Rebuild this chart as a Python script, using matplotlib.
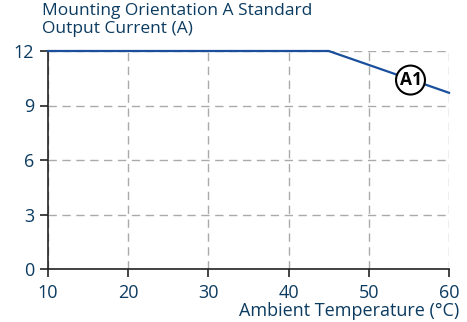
import matplotlib
matplotlib.use("Agg")
import matplotlib.pyplot as plt

temps = [10, 45, 60]
current = [12, 12, 9.7]
xticks = [10, 20, 30, 40, 50, 60]
yticks = [0, 3, 6, 9, 12]
label_text = "A1"
label_pos = (55.2, 10.4)

txt = "#0b3b60"
line_c = "#1a4f9c"
plt.rcParams['font.family'] = ['Open Sans', 'DejaVu Sans']

fig = plt.figure(figsize=(4.67, 3.22), dpi=100)
ax = fig.add_axes([48/467, 1-269/322, (449-48)/467, (269-51)/322])
ax.plot(temps, current, color=line_c, lw=1.6, zorder=3, clip_on=False)
ax.set_xlim(10, 60)
ax.set_ylim(0, 12)
ax.set_xticks(xticks)
ax.set_yticks(yticks)
ax.grid(True, color="#aaaaaa", linestyle=(0, (6, 4)), lw=1.0)
for s in ["top", "right"]:
    ax.spines[s].set_visible(False)
for s in ["left", "bottom"]:
    ax.spines[s].set_color("#222222")
    ax.spines[s].set_linewidth(1.2)
ax.tick_params(colors="#222222", labelcolor=txt, labelsize=13, length=6, width=1.2)
ax.tick_params(axis="x", pad=5)
ax.tick_params(axis="y", pad=4)
ax.text(*label_pos, label_text, ha="center", va="center", fontsize=12.5, fontweight="bold",
        color="black", zorder=5,
        bbox=dict(boxstyle="circle,pad=0.2", fc="white", ec="black", lw=1.5))
fig.text(42/467, 1-3/322, "Mounting Orientation A Standard\nOutput Current (A)", ha="left", va="top",
         fontsize=12.5, color=txt, linespacing=1.15)
fig.text(459/467, 1-302/322, "Ambient Temperature (°C)", ha="right", va="top",
         fontsize=13, color=txt)
fig.savefig("out.png", dpi=100)
